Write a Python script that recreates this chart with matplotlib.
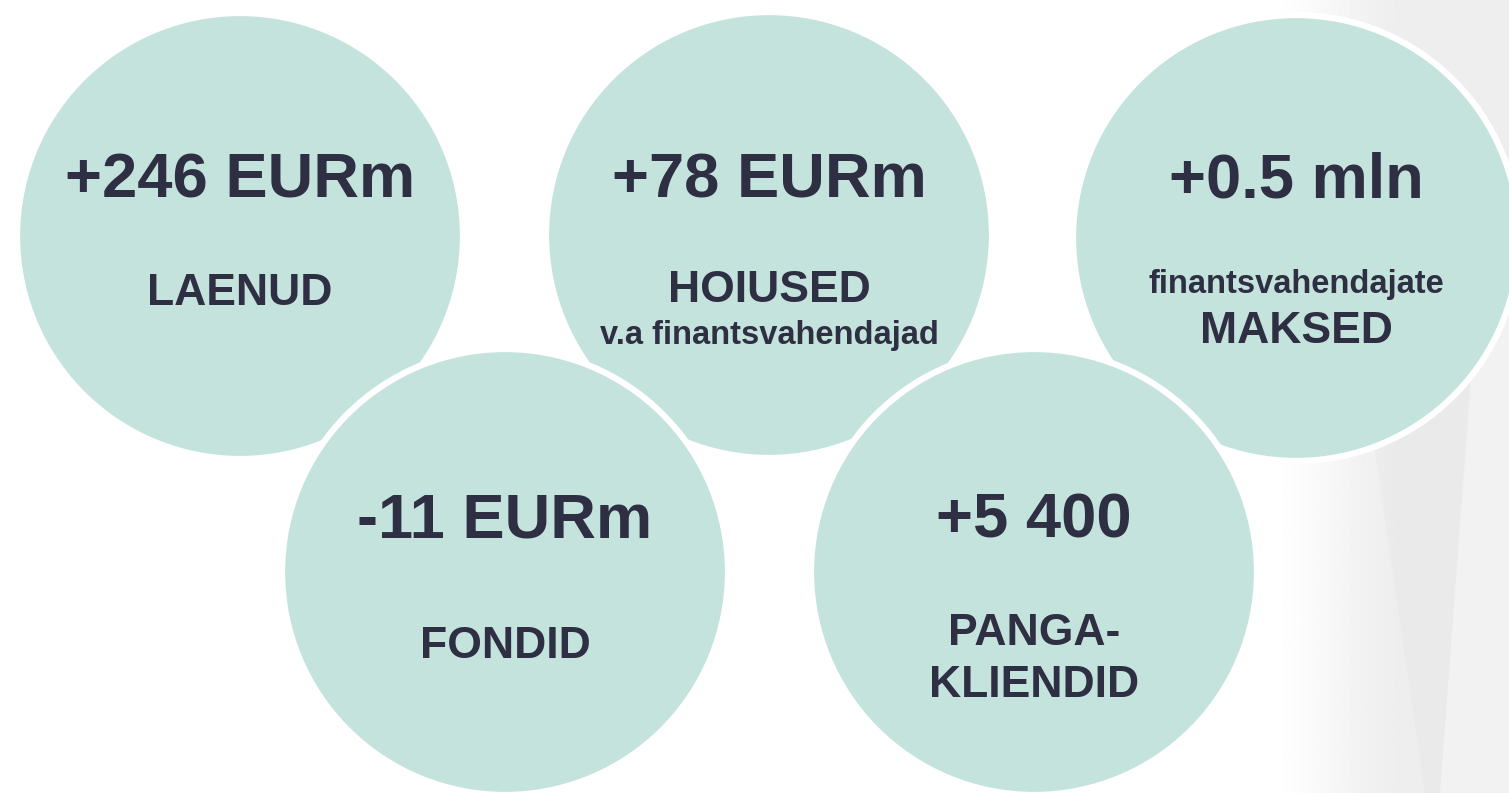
import matplotlib
matplotlib.use("Agg")
import matplotlib.pyplot as plt
import numpy as np
from matplotlib.patches import Circle, Polygon

plt.rcParams['font.family'] = ['Liberation Sans', 'DejaVu Sans']

# values and captions, one per circle
values = ['+246 EURm', '+78 EURm', '+0.5 mln', '-11 EURm', '+5 400']
captions = [['LAENUD'],
            ['HOIUSED', 'v.a finantsvahendajad'],
            ['finantsvahendajate', 'MAKSED'],
            ['FONDID'],
            ['PANGA-', 'KLIENDID']]

# layout (pixels, y from top), baselines of the text lines
centers = [(240, 236), (769, 235), (1296, 238), (505, 572), (1034, 572)]
radius = 223
value_base = [198, 198, 198, 538, 538]
caption_base = [[305], [302, 344], [293, 343], [658], [645, 697]]
caption_size = [[32], [32, 23.5], [23.5, 32], [32], [32, 32]]

fill = '#c4e3dc'
ink = '#2f2f43'

fig = plt.figure(figsize=(15.09, 7.93), dpi=100)
ax = fig.add_axes([0, 0, 1, 1])

# soft grey sheen on the right side
xs = np.linspace(0, 1, 200)
t = np.clip(xs * 1.6, 0, 1)
shade = 1 - 0.07 * (t * t * (3 - 2 * t))
img = np.tile(shade, (50, 1))
ax.imshow(img, cmap='gray', vmin=0, vmax=1, extent=[1260, 1509, 793, 0],
          aspect='auto', zorder=0, interpolation='bilinear')
ax.add_patch(Polygon([(1350, 280), (1480, 280), (1440, 793), (1425, 793)],
                     closed=True, facecolor='#d8d9dd', edgecolor='none',
                     alpha=0.15, zorder=0.5))
ax.add_patch(Polygon([(1480, 250), (1509, 230), (1509, 793), (1440, 793)],
                     closed=True, facecolor='#f7f7f8', edgecolor='none',
                     alpha=0.5, zorder=0.5))
ax.set_xlim(0, 1509)
ax.set_ylim(793, 0)
ax.axis('off')

for i, (cx, cy) in enumerate(centers):
    ax.add_patch(Circle((cx, cy), radius, facecolor=fill, edgecolor='white',
                        linewidth=4.5, zorder=1 + i))
    ax.text(cx, value_base[i], values[i], ha='center', va='baseline',
            fontsize=45.5, fontweight='bold', color=ink, zorder=10)
    for line, y, s in zip(captions[i], caption_base[i], caption_size[i]):
        ax.text(cx, y, line, ha='center', va='baseline', fontsize=s,
                fontweight='bold', color=ink, zorder=10)

fig.savefig('out.png', dpi=100)
